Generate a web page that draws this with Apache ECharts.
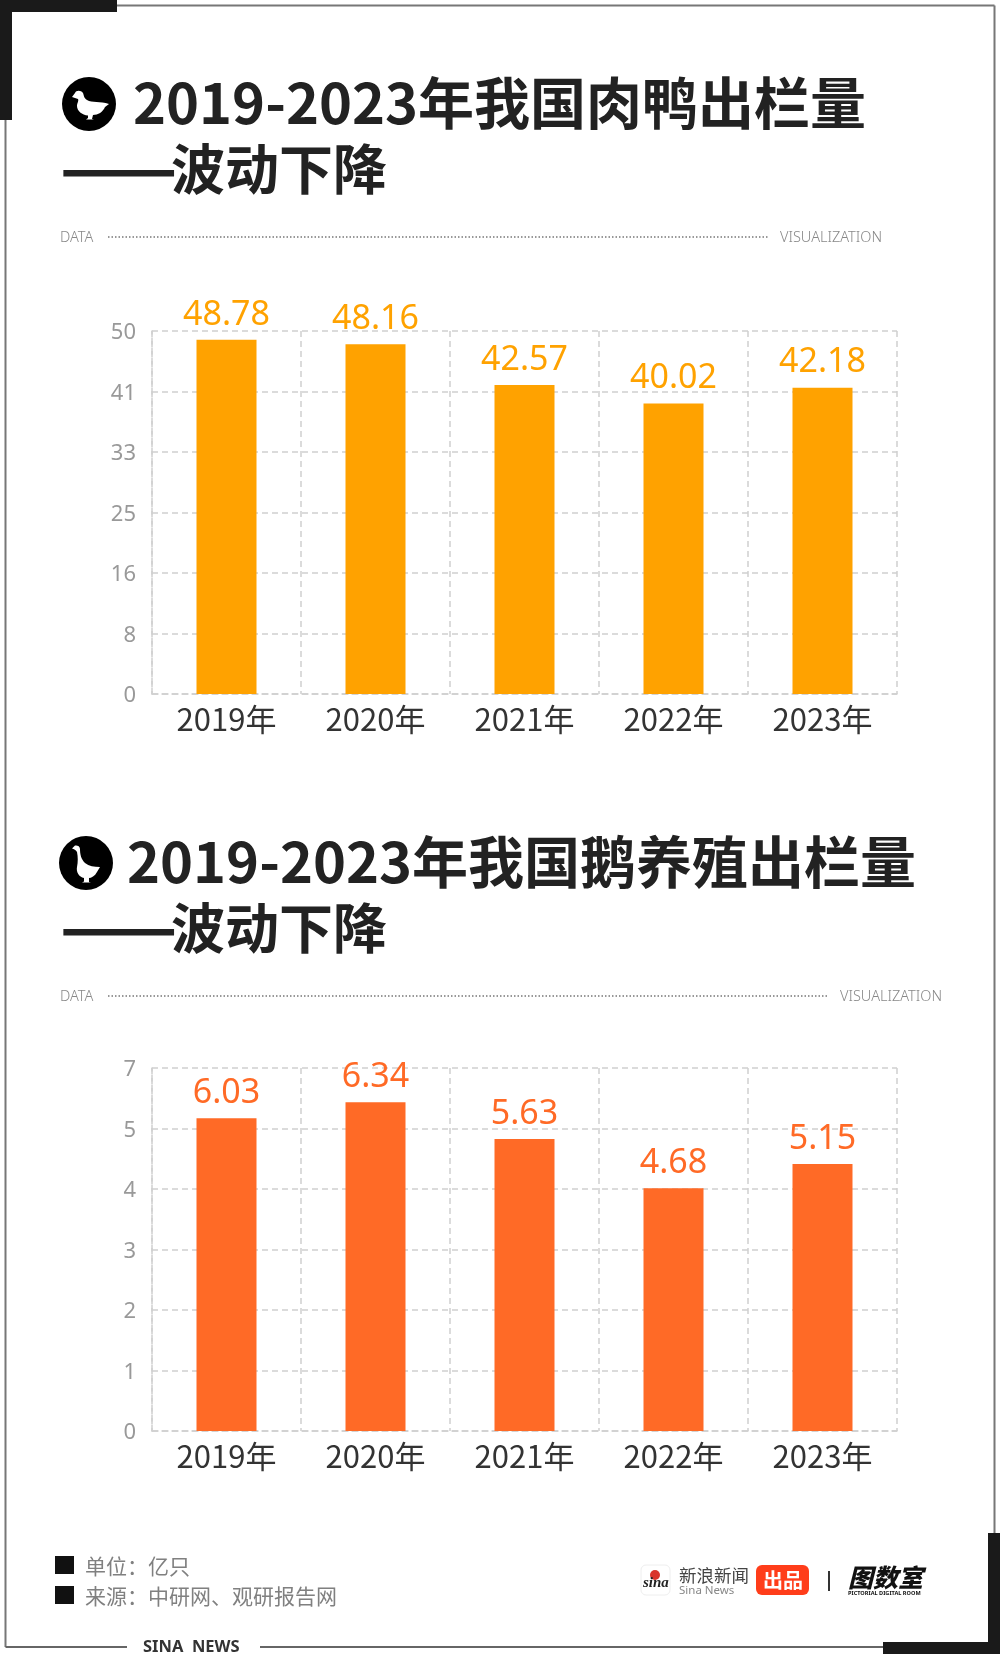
<!DOCTYPE html>
<html><head><meta charset="utf-8">
<style>html,body{margin:0;padding:0;background:#fff}#c{width:1000px;height:1654px}</style>
<script src="https://cdn.jsdelivr.net/npm/echarts@6/dist/echarts.min.js"></script>
</head><body><div id="c"></div>
<script>
const categories = ['2019年','2020年','2021年','2022年','2023年'];
const duckValues = [48.78,48.16,42.57,40.02,42.18];
const gooseValues = [6.03,6.34,5.63,4.68,5.15];
const duckMax = 50;
const gooseMax = 7;
const duckTitle = '2019-2023年我国肉鸭出栏量';
const gooseTitle = '2019-2023年我国鹅养殖出栏量';
const subDash = '——';
const subTitle = '波动下降';
const noteLines = ['单位：亿只','来源：中研网、观研报告网'];

const CJK = '"Noto Sans CJK SC","Noto Sans",sans-serif';
const LAT = '"Noto Sans","Noto Sans CJK SC",sans-serif';
const duckPath='M14 25 L17 21 C18 18 23 18 25 21 C26 24 26 26 29 28 C34 31 42 29 51 32 L47 35 C45 40 40 43 35 43 L34 47 L36 47.5 L28 47.5 L30 46 L30 43.5 C24 43 19 39 19 34 C19 31 21 29 20 27 C18 26 16 26 14 25Z';
const goosePath='M18 16.5 L21 13.5 C23 13 26 14 26 17 C26 22 27 27 31 31 C35 34 40 35 46 35 L43 40 C41 44 37 46 35 46 L35 50 L37 50.5 L28 50.5 L30 49.5 L30 46 C25 45 22 40 23 35 C24 30 24 25 23 20 C22 18 20 17 18 16.5Z';
echarts.graphic.registerShape('duckIcon',echarts.graphic.extendPath(duckPath,{}));
echarts.graphic.registerShape('gooseIcon',echarts.graphic.extendPath(goosePath,{}));

const chart = echarts.init(document.getElementById('c'),null,{renderer:'canvas'});
const dash = {color:'#cfcfcf',width:1.5,type:[6,4]};
function xAxis(i){return {gridIndex:i,type:'category',data:categories,
  axisTick:{show:false},axisLine:{show:true,lineStyle:dash},
  splitLine:{show:true,lineStyle:dash},
  axisLabel:{color:'#333',fontSize:31,fontFamily:CJK,margin:10,interval:0}};}
function yAxis(i,max){return {gridIndex:i,type:'value',min:0,max:max,interval:max/6,
  axisLine:{show:true,lineStyle:dash},axisTick:{show:false},
  splitLine:{show:true,lineStyle:dash},
  axisLabel:{color:'#999',fontSize:22,fontFamily:LAT,margin:16,
    formatter:v=>'{a|'+Math.floor(v+1e-9)+'}',
    rich:{a:{color:'#999',fontSize:22,fontFamily:LAT,padding:[4,0,0,0]}}}};}
function bar(i,vals,col){return {type:'bar',xAxisIndex:i,yAxisIndex:i,data:vals,barWidth:60,
  itemStyle:{color:col},z:3,
  label:{show:true,position:'top',distance:8,color:col,fontSize:34,fontFamily:LAT,formatter:p=>p.value.toFixed(2)}};}
function T(x,y,text,font,size,fill,extra){return {type:'text',x:x,y:y,silent:true,
  style:Object.assign({text:text,fontFamily:font,fontSize:size,fill:fill,verticalAlign:'middle'},extra||{})};}
function R(x,y,w,h,fill,r){return {type:'rect',shape:{x:x,y:y,width:w,height:h,r:r||0},style:{fill:fill},silent:true};}
function L(x1,y1,x2,y2,stroke,w,dashv){return {type:'line',shape:{x1:x1,y1:y1,x2:x2,y2:y2},style:{stroke:stroke,lineWidth:w,lineDash:dashv||null},silent:true};}
function circle(cx,cy,r){return {type:'circle',shape:{cx:cx,cy:cy,r:r},style:{fill:'#000'},silent:true};}
function icon(kind,x,y){return {type:kind,x:x,y:y,style:{fill:'#fff'},silent:true};}
function titleBlock(ix,iy,kind,ox,oy,tx,ty,title,ruleEnd,visX,ruleY){
 return [circle(ix,iy,27),icon(kind,ox,oy),
  T(tx,ty,title,CJK,56,'#222',{fontWeight:'bold'}),
  T(60,ty+64,subDash,CJK,69,'#222',{fontWeight:'bold'}),
  T(171,ty+66,subTitle,CJK,54,'#222',{fontWeight:'bold'}),
  T(60,ruleY+1,'DATA',LAT,14.5,'#888',{fontWeight:300}),
  L(108,ruleY,ruleEnd,ruleY,'#777',1.5,[1.5,2]),
  T(visX,ruleY+1,'VISUALIZATION',LAT,14.5,'#888',{fontWeight:300})];
}
const graphic=[
 L(5.5,5.5,994.5,5.5,'#777',2),L(5.5,5.5,5.5,1647,'#777',2),L(994.5,5.5,994.5,1647,'#777',2),
 L(5.5,1647,127,1647,'#666',2),L(260,1647,994.5,1647,'#666',2),
 R(0,0,117,12,'#1a1a1a'),R(0,0,12,120,'#1a1a1a'),
 R(883,1642,117,12,'#1a1a1a'),R(988,1533,12,121,'#1a1a1a'),
 T(143,1647,'SINA  NEWS',LAT,16.5,'#333',{fontWeight:'bold'}),
 ...titleBlock(89,104,'duckIcon',58,72,133,103,duckTitle,768,780,237),
 ...titleBlock(86,863,'gooseIcon',54,832,127,862,gooseTitle,828,840,996),
 R(55,1556,19,18,'#111'),R(55,1586,19,18,'#111'),
 T(85,1566,noteLines[0],CJK,21,'#808080'),T(85,1596,noteLines[1],CJK,21,'#808080'),
 {type:'rect',shape:{x:641,y:1565,width:29,height:30,r:5},style:{fill:'#fff',stroke:'#eee',lineWidth:1},silent:true},
 {type:'circle',shape:{cx:655,cy:1575,r:5},style:{fill:'#d9342b'},silent:true},
 T(643,1583,'sina','"Liberation Serif",serif',15,'#222',{fontWeight:'bold',fontStyle:'italic'}),
 T(679,1575,'新浪新闻',CJK,17.5,'#444'),
 T(679,1591,'Sina News',LAT,11.5,'#888'),
 R(756,1565,53,30,'#ff3d1a',6),
 T(763,1580,'出品',CJK,20,'#fff',{fontWeight:'bold'}),
 L(829,1571,829,1591,'#333',2),
 T(848,1577,'图数室',CJK,25,'#111',{fontWeight:'900',fontStyle:'italic'}),
 T(848,1593,'PICTORIAL DIGITAL ROOM',LAT,5.6,'#111',{fontWeight:'bold'})
];
chart.setOption({
 animation:false,backgroundColor:'#fff',
 grid:[{left:152,width:745,top:331,height:363},{left:152,width:745,top:1068,height:363}],
 xAxis:[xAxis(0),xAxis(1)],
 yAxis:[yAxis(0,duckMax),yAxis(1,gooseMax)],
 series:[bar(0,duckValues,'#ffa200'),bar(1,gooseValues,'#ff6a26')],
 graphic:graphic
});
</script></body></html>
